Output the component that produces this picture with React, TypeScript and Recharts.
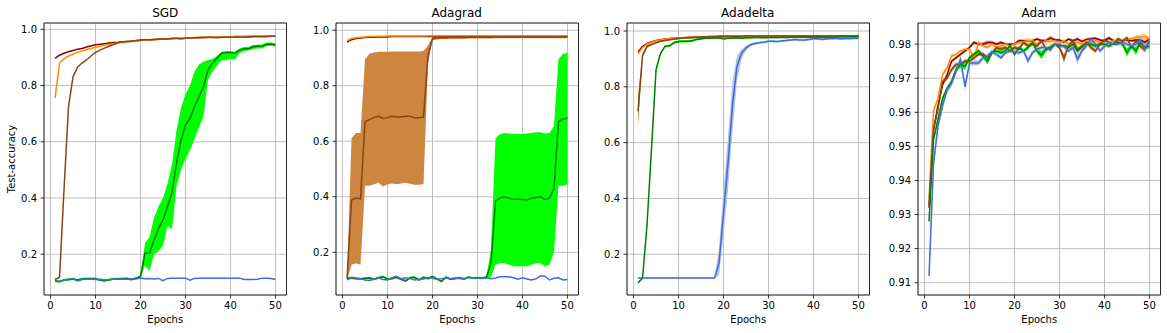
import React from 'react';
import { ComposedChart, Line, Area, XAxis, YAxis, CartesianGrid, ReferenceArea } from 'recharts';

const FONT = '"DejaVu Sans", Verdana, sans-serif';

const epochs = [1,2,3,4,5,6,7,8,9,10,11,12,13,14,15,16,17,18,19,20,21,22,23,24,25,26,27,28,29,30,31,32,33,34,35,36,37,38,39,40,41,42,43,44,45,46,47,48,49,50];
const xTicks = [0, 10, 20, 30, 40, 50];
const unitTicks = [0.2, 0.4, 0.6, 0.8, 1.0];
const adamTicks = [0.91, 0.92, 0.93, 0.94, 0.95, 0.96, 0.97, 0.98];
const titles = ['SGD', 'Adagrad', 'Adadelta', 'Adam'];

// ---------- SGD ----------
const sgdRed = [0.897,0.908,0.915,0.920,0.925,0.929,0.932,0.937,0.941,0.945,0.947,0.949,0.951,0.953,0.954,0.956,0.957,0.958,0.959,0.961,0.962,0.963,0.964,0.965,0.966,0.966,0.967,0.968,0.968,0.969,0.970,0.970,0.971,0.971,0.972,0.972,0.972,0.973,0.973,0.973,0.974,0.974,0.974,0.974,0.975,0.975,0.975,0.975,0.976,0.976];
const sgdOrange = [0.755,0.880,0.895,0.905,0.912,0.918,0.923,0.928,0.932,0.936,0.940,0.943,0.946,0.949,0.952,0.954,0.956,0.957,0.958,0.960,0.961,0.962,0.963,0.964,0.965,0.966,0.967,0.968,0.969,0.969,0.970,0.971,0.971,0.972,0.972,0.973,0.973,0.974,0.974,0.974,0.975,0.975,0.975,0.976,0.976,0.976,0.977,0.977,0.977,0.977];
const sgdBrown = [0.110,0.118,0.430,0.725,0.831,0.865,0.880,0.891,0.905,0.918,0.926,0.933,0.940,0.946,0.952,0.955,0.957,0.958,0.960,0.962,0.963,0.963,0.964,0.965,0.966,0.966,0.967,0.967,0.966,0.968,0.969,0.970,0.970,0.971,0.971,0.971,0.970,0.972,0.972,0.972,0.973,0.973,0.973,0.973,0.974,0.974,0.974,0.974,0.975,0.975];
const sgdGreen = [0.105,0.103,0.108,0.110,0.112,0.108,0.112,0.113,0.113,0.113,0.108,0.106,0.109,0.112,0.112,0.113,0.114,0.110,0.115,0.120,0.204,0.204,0.251,0.292,0.322,0.369,0.420,0.524,0.606,0.660,0.683,0.725,0.760,0.796,0.855,0.879,0.897,0.915,0.918,0.918,0.915,0.926,0.931,0.931,0.938,0.940,0.940,0.947,0.948,0.945];
const sgdGreenLo = [0.100,0.099,0.104,0.106,0.108,0.104,0.108,0.109,0.109,0.109,0.104,0.102,0.105,0.108,0.108,0.109,0.110,0.106,0.111,0.115,0.160,0.140,0.200,0.210,0.230,0.300,0.290,0.440,0.500,0.540,0.570,0.610,0.650,0.690,0.820,0.850,0.870,0.890,0.890,0.895,0.893,0.915,0.922,0.925,0.930,0.932,0.932,0.940,0.942,0.938];
const sgdGreenHi = [0.110,0.107,0.112,0.114,0.116,0.112,0.116,0.117,0.117,0.117,0.112,0.110,0.113,0.116,0.116,0.117,0.118,0.114,0.119,0.125,0.240,0.260,0.330,0.370,0.400,0.450,0.520,0.640,0.720,0.770,0.800,0.850,0.875,0.885,0.890,0.895,0.905,0.920,0.922,0.922,0.920,0.932,0.937,0.937,0.944,0.946,0.946,0.952,0.953,0.950];
const sgdBlue = [0.105,0.103,0.108,0.112,0.113,0.105,0.110,0.111,0.112,0.110,0.111,0.109,0.110,0.112,0.111,0.112,0.111,0.113,0.112,0.115,0.113,0.114,0.112,0.114,0.106,0.114,0.115,0.115,0.115,0.115,0.108,0.114,0.115,0.115,0.115,0.115,0.115,0.115,0.115,0.115,0.115,0.115,0.110,0.110,0.110,0.111,0.115,0.115,0.114,0.110];

// ---------- Adagrad ----------
const agRed = [0.957,0.966,0.970,0.972,0.974,0.975,0.975,0.976,0.976,0.976,0.977,0.977,0.977,0.977,0.977,0.977,0.977,0.977,0.977,0.977,0.977,0.977,0.977,0.977,0.977,0.978,0.978,0.978,0.978,0.978,0.978,0.978,0.978,0.978,0.978,0.978,0.978,0.978,0.978,0.978,0.978,0.978,0.978,0.978,0.978,0.978,0.978,0.978,0.978,0.978];
const agOrange = [0.962,0.970,0.973,0.975,0.976,0.977,0.977,0.978,0.978,0.979,0.979,0.979,0.979,0.979,0.979,0.979,0.979,0.979,0.980,0.980,0.980,0.980,0.980,0.980,0.980,0.980,0.980,0.980,0.980,0.980,0.980,0.980,0.980,0.980,0.980,0.980,0.980,0.980,0.980,0.980,0.980,0.980,0.980,0.980,0.980,0.980,0.980,0.980,0.980,0.980];
const agBrown = [0.105,0.388,0.395,0.392,0.671,0.678,0.685,0.690,0.682,0.685,0.690,0.687,0.687,0.690,0.690,0.685,0.685,0.687,0.910,0.970,0.972,0.973,0.973,0.974,0.974,0.974,0.974,0.975,0.975,0.975,0.975,0.975,0.975,0.976,0.976,0.976,0.976,0.976,0.976,0.976,0.976,0.976,0.976,0.976,0.976,0.976,0.976,0.976,0.976,0.976];
const agBrownLo = [0.100,0.155,0.160,0.155,0.440,0.440,0.445,0.450,0.437,0.445,0.448,0.445,0.448,0.450,0.447,0.443,0.443,0.445,0.880,0.964,0.967,0.968,0.968,0.969,0.969,0.969,0.969,0.970,0.970,0.970,0.970,0.970,0.970,0.971,0.971,0.971,0.971,0.971,0.971,0.971,0.971,0.971,0.971,0.971,0.971,0.971,0.971,0.971,0.971,0.971];
const agBrownHi = [0.110,0.610,0.630,0.630,0.895,0.915,0.920,0.922,0.922,0.922,0.923,0.923,0.923,0.923,0.923,0.923,0.923,0.925,0.945,0.976,0.977,0.978,0.978,0.978,0.978,0.978,0.978,0.979,0.979,0.979,0.979,0.979,0.979,0.979,0.979,0.979,0.979,0.979,0.979,0.979,0.979,0.979,0.979,0.979,0.979,0.979,0.979,0.979,0.979,0.979];
const agGreen = [0.108,0.107,0.105,0.104,0.106,0.107,0.103,0.108,0.112,0.103,0.105,0.110,0.103,0.097,0.108,0.110,0.100,0.110,0.105,0.112,0.104,0.095,0.110,0.103,0.105,0.108,0.104,0.110,0.107,0.108,0.107,0.110,0.160,0.385,0.395,0.400,0.395,0.390,0.392,0.390,0.388,0.395,0.397,0.400,0.390,0.395,0.430,0.670,0.680,0.683];
const agGreenLo = [0.104,0.103,0.101,0.100,0.102,0.103,0.099,0.104,0.108,0.099,0.101,0.106,0.099,0.093,0.104,0.106,0.096,0.106,0.101,0.108,0.100,0.091,0.106,0.099,0.101,0.104,0.100,0.106,0.103,0.104,0.103,0.105,0.110,0.155,0.160,0.160,0.155,0.150,0.150,0.150,0.150,0.155,0.160,0.160,0.150,0.155,0.200,0.440,0.440,0.445];
const agGreenHi = [0.112,0.111,0.109,0.108,0.110,0.111,0.107,0.112,0.116,0.107,0.109,0.114,0.107,0.101,0.112,0.114,0.104,0.114,0.109,0.116,0.108,0.099,0.114,0.107,0.109,0.112,0.108,0.114,0.111,0.112,0.111,0.115,0.210,0.610,0.625,0.630,0.628,0.627,0.627,0.627,0.628,0.630,0.632,0.632,0.628,0.630,0.655,0.895,0.915,0.918];
const agBlue = [0.100,0.110,0.107,0.105,0.100,0.098,0.103,0.108,0.102,0.100,0.108,0.113,0.105,0.108,0.105,0.100,0.103,0.104,0.108,0.106,0.103,0.105,0.107,0.105,0.107,0.105,0.104,0.110,0.107,0.108,0.107,0.108,0.105,0.107,0.112,0.112,0.112,0.108,0.103,0.108,0.104,0.100,0.104,0.115,0.114,0.100,0.106,0.108,0.100,0.102];

// ---------- Adadelta ----------
const adRed = [0.925,0.945,0.955,0.962,0.966,0.969,0.971,0.973,0.974,0.975,0.976,0.977,0.977,0.978,0.978,0.979,0.979,0.979,0.980,0.980,0.980,0.980,0.980,0.980,0.981,0.981,0.981,0.981,0.981,0.981,0.981,0.981,0.981,0.981,0.981,0.981,0.981,0.981,0.982,0.982,0.982,0.982,0.982,0.982,0.982,0.982,0.982,0.982,0.982,0.982];
const adOrange = [0.918,0.940,0.953,0.960,0.965,0.968,0.971,0.973,0.974,0.975,0.976,0.977,0.978,0.978,0.979,0.979,0.980,0.980,0.980,0.980,0.980,0.980,0.981,0.981,0.981,0.981,0.981,0.981,0.981,0.981,0.981,0.981,0.981,0.981,0.981,0.981,0.981,0.981,0.981,0.981,0.981,0.981,0.981,0.981,0.981,0.981,0.981,0.981,0.981,0.981];
const adBrown = [0.712,0.912,0.945,0.952,0.958,0.963,0.966,0.969,0.971,0.973,0.975,0.976,0.977,0.978,0.979,0.979,0.980,0.980,0.981,0.981,0.981,0.981,0.981,0.981,0.982,0.982,0.982,0.982,0.982,0.982,0.982,0.982,0.982,0.982,0.982,0.982,0.982,0.982,0.982,0.982,0.982,0.982,0.982,0.982,0.982,0.982,0.982,0.982,0.982,0.982];
const adBrownLo = [0.655,0.905,0.940,0.948,0.955,0.960,0.963,0.966,0.968,0.970,0.972,0.973,0.974,0.975,0.976,0.976,0.977,0.977,0.978,0.978,0.978,0.978,0.978,0.978,0.979,0.979,0.979,0.979,0.979,0.979,0.979,0.979,0.979,0.979,0.979,0.979,0.979,0.979,0.979,0.979,0.979,0.979,0.979,0.979,0.979,0.979,0.979,0.979,0.979,0.979];
const adBrownHi = [0.770,0.920,0.950,0.956,0.961,0.966,0.969,0.972,0.974,0.976,0.978,0.979,0.980,0.981,0.982,0.982,0.983,0.983,0.984,0.984,0.984,0.984,0.984,0.984,0.985,0.985,0.985,0.985,0.985,0.985,0.985,0.985,0.985,0.985,0.985,0.985,0.985,0.985,0.985,0.985,0.985,0.985,0.985,0.985,0.985,0.985,0.985,0.985,0.985,0.985];
const adGreen = [0.098,0.114,0.305,0.580,0.860,0.920,0.945,0.947,0.958,0.962,0.963,0.963,0.965,0.970,0.972,0.974,0.974,0.975,0.976,0.972,0.974,0.975,0.976,0.974,0.976,0.976,0.977,0.977,0.976,0.977,0.977,0.977,0.978,0.977,0.978,0.978,0.978,0.978,0.978,0.978,0.978,0.978,0.978,0.978,0.978,0.979,0.979,0.979,0.979,0.979];
const adGreenSpread = [0.004,0.004,0.010,0.012,0.010,0.005,0.004,0.004,0.004,0.004,0.004,0.004,0.004,0.004,0.003,0.003,0.003,0.003,0.003,0.004,0.003,0.003,0.003,0.003,0.003,0.003,0.003,0.003,0.003,0.003,0.003,0.003,0.003,0.003,0.003,0.003,0.003,0.003,0.003,0.003,0.003,0.003,0.003,0.003,0.003,0.003,0.003,0.003,0.003,0.003];
const adBlue = [0.115,0.115,0.115,0.115,0.115,0.115,0.115,0.115,0.115,0.115,0.115,0.115,0.115,0.115,0.115,0.115,0.115,0.115,0.168,0.347,0.526,0.736,0.873,0.921,0.939,0.951,0.955,0.958,0.960,0.963,0.963,0.962,0.965,0.966,0.968,0.970,0.968,0.968,0.970,0.972,0.972,0.970,0.972,0.973,0.974,0.972,0.973,0.973,0.974,0.974];
const adBlueLo = [0.113,0.113,0.113,0.113,0.113,0.113,0.113,0.113,0.113,0.113,0.113,0.113,0.113,0.113,0.113,0.113,0.113,0.113,0.125,0.270,0.430,0.640,0.820,0.900,0.930,0.945,0.950,0.954,0.956,0.959,0.959,0.958,0.961,0.962,0.964,0.966,0.964,0.964,0.966,0.968,0.968,0.966,0.968,0.969,0.970,0.968,0.969,0.969,0.970,0.970];
const adBlueHi = [0.117,0.117,0.117,0.117,0.117,0.117,0.117,0.117,0.117,0.117,0.117,0.117,0.117,0.117,0.117,0.117,0.117,0.117,0.220,0.430,0.620,0.820,0.910,0.935,0.947,0.956,0.960,0.962,0.964,0.967,0.967,0.966,0.969,0.970,0.972,0.974,0.972,0.972,0.974,0.976,0.976,0.974,0.976,0.977,0.978,0.976,0.977,0.977,0.978,0.978];

// ---------- Adam ----------
const adamRed = [0.932,0.955,0.962,0.968,0.971,0.975,0.976,0.977,0.978,0.979,0.9805,0.980,0.980,0.9805,0.9805,0.980,0.9805,0.980,0.980,0.980,0.981,0.981,0.981,0.981,0.9815,0.981,0.981,0.9818,0.9812,0.9812,0.9806,0.9815,0.981,0.9815,0.9808,0.9814,0.9816,0.9817,0.9812,0.981,0.9818,0.981,0.9808,0.981,0.9812,0.981,0.9812,0.9812,0.9805,0.9815];
const adamOrange = [0.935,0.9605,0.964,0.971,0.973,0.9765,0.977,0.978,0.9785,0.9785,0.976,0.9805,0.9795,0.979,0.980,0.979,0.9795,0.980,0.9795,0.980,0.9805,0.9808,0.981,0.981,0.980,0.9805,0.981,0.9808,0.981,0.9805,0.981,0.980,0.9805,0.9805,0.980,0.981,0.9805,0.981,0.9805,0.980,0.9805,0.981,0.981,0.9805,0.9815,0.9815,0.982,0.982,0.9823,0.9815];
const adamBrown = [0.933,0.955,0.961,0.969,0.970,0.9725,0.974,0.974,0.975,0.975,0.976,0.977,0.977,0.976,0.9775,0.979,0.9785,0.979,0.978,0.979,0.9785,0.9805,0.9795,0.980,0.9795,0.981,0.9785,0.979,0.980,0.979,0.9758,0.9795,0.981,0.9785,0.979,0.9805,0.979,0.978,0.980,0.9812,0.9805,0.980,0.9815,0.9808,0.9818,0.979,0.981,0.9795,0.9785,0.981];
const adamGreen = [0.928,0.952,0.958,0.964,0.967,0.969,0.9725,0.974,0.9735,0.976,0.977,0.978,0.9765,0.975,0.9775,0.978,0.9775,0.978,0.9795,0.977,0.979,0.978,0.979,0.9805,0.978,0.9768,0.9785,0.979,0.980,0.9795,0.9795,0.979,0.980,0.978,0.9795,0.980,0.980,0.9795,0.980,0.980,0.9795,0.9802,0.9805,0.980,0.9775,0.9795,0.978,0.9805,0.979,0.9795];
const adamBlue = [0.912,0.945,0.956,0.962,0.9665,0.9685,0.972,0.9755,0.9675,0.9745,0.9745,0.9745,0.976,0.9765,0.9778,0.977,0.976,0.9775,0.978,0.9778,0.9775,0.978,0.9751,0.9775,0.9785,0.979,0.979,0.9783,0.980,0.980,0.9793,0.978,0.979,0.9756,0.978,0.9795,0.9815,0.980,0.978,0.9793,0.9805,0.980,0.980,0.9805,0.980,0.9795,0.980,0.9813,0.9785,0.9808];
const adamRedSpread = [0.0010,0.0008,0.0006,0.0006,0.0005,0.0005,0.0005,0.0005,0.0004,0.0005,0.0005,0.0004,0.0006,0.0006,0.0005,0.0004,0.0005,0.0004,0.0004,0.0004,0.0005,0.0004,0.0004,0.0005,0.0004,0.0005,0.0006,0.0007,0.0005,0.0004,0.0005,0.0004,0.0004,0.0005,0.0004,0.0004,0.0005,0.0004,0.0004,0.0004,0.0005,0.0004,0.0004,0.0005,0.0004,0.0004,0.0005,0.0007,0.0008,0.0006];
const adamOrangeSpread = [0.0020,0.0010,0.0008,0.0006,0.0005,0.0005,0.0004,0.0004,0.0004,0.0005,0.0006,0.0005,0.0005,0.0004,0.0004,0.0005,0.0004,0.0004,0.0005,0.0004,0.0005,0.0008,0.0008,0.0005,0.0005,0.0004,0.0004,0.0005,0.0004,0.0004,0.0005,0.0004,0.0004,0.0005,0.0008,0.0008,0.0005,0.0004,0.0004,0.0005,0.0004,0.0004,0.0005,0.0004,0.0005,0.0005,0.0006,0.0008,0.0008,0.0007];
const adamBrownSpread = [0.0020,0.0012,0.0008,0.0007,0.0006,0.0006,0.0006,0.0006,0.0006,0.0006,0.0006,0.0005,0.0006,0.0006,0.0005,0.0005,0.0006,0.0005,0.0005,0.0006,0.0006,0.0005,0.0006,0.0005,0.0006,0.0005,0.0007,0.0006,0.0005,0.0006,0.0012,0.0006,0.0005,0.0008,0.0006,0.0005,0.0006,0.0006,0.0005,0.0006,0.0005,0.0006,0.0005,0.0006,0.0005,0.0007,0.0006,0.0008,0.0010,0.0007];
const adamGreenSpread = [0.0015,0.0010,0.0008,0.0007,0.0006,0.0006,0.0008,0.0010,0.0010,0.0006,0.0006,0.0006,0.0007,0.0010,0.0006,0.0005,0.0006,0.0005,0.0006,0.0006,0.0005,0.0006,0.0005,0.0006,0.0007,0.0012,0.0006,0.0005,0.0005,0.0005,0.0005,0.0006,0.0005,0.0006,0.0005,0.0005,0.0005,0.0006,0.0005,0.0005,0.0006,0.0005,0.0005,0.0006,0.0012,0.0006,0.0012,0.0006,0.0006,0.0008];
const adamBlueSpread = [0.0030,0.0020,0.0015,0.0012,0.0010,0.0010,0.0010,0.0010,0.0012,0.0008,0.0008,0.0008,0.0007,0.0007,0.0006,0.0006,0.0006,0.0006,0.0006,0.0006,0.0006,0.0006,0.0010,0.0007,0.0006,0.0006,0.0006,0.0006,0.0005,0.0006,0.0006,0.0006,0.0006,0.0015,0.0007,0.0006,0.0006,0.0006,0.0007,0.0006,0.0006,0.0006,0.0005,0.0006,0.0006,0.0006,0.0006,0.0006,0.0007,0.0006];

const COLORS = {
  red: { line: '#8B0000', band: '#E07878', op: 0.75 },
  orange: { line: '#FF8C00', band: '#FFC47A', op: 0.8 },
  brown: { line: '#8B4513', band: '#CD853F', op: 1 },
  green: { line: '#008000', band: '#00FF00', op: 1 },
  blue: { line: '#4169E1', band: '#B0C4DE', op: 1 },
};

type Series = { name: keyof typeof COLORS; mean: number[]; lo?: number[]; hi?: number[]; spread?: number[] };

const panels: { title: string; plotLeft: number; yw: number; domain: [number, number]; ticks: number[]; dec: number; series: Series[] }[] = [
  {
    title: titles[0], plotLeft: 44, yw: 44, domain: [0.055, 1.0225], ticks: unitTicks, dec: 1,
    series: [
      { name: 'red', mean: sgdRed },
      { name: 'orange', mean: sgdOrange },
      { name: 'brown', mean: sgdBrown },
      { name: 'green', mean: sgdGreen, lo: sgdGreenLo, hi: sgdGreenHi },
      { name: 'blue', mean: sgdBlue },
    ],
  },
  {
    title: titles[1], plotLeft: 335.5, yw: 40, domain: [0.046, 1.026], ticks: unitTicks, dec: 1,
    series: [
      { name: 'red', mean: agRed },
      { name: 'orange', mean: agOrange },
      { name: 'brown', mean: agBrown, lo: agBrownLo, hi: agBrownHi },
      { name: 'green', mean: agGreen, lo: agGreenLo, hi: agGreenHi },
      { name: 'blue', mean: agBlue },
    ],
  },
  {
    title: titles[2], plotLeft: 626.5, yw: 40, domain: [0.054, 1.0287], ticks: unitTicks, dec: 1,
    series: [
      { name: 'red', mean: adRed },
      { name: 'orange', mean: adOrange },
      { name: 'brown', mean: adBrown, lo: adBrownLo, hi: adBrownHi },
      { name: 'green', mean: adGreen, spread: adGreenSpread },
      { name: 'blue', mean: adBlue, lo: adBlueLo, hi: adBlueHi },
    ],
  },
  {
    title: titles[3], plotLeft: 917.5, yw: 40, domain: [0.9064, 0.9862], ticks: adamTicks, dec: 2,
    series: [
      { name: 'red', mean: adamRed, spread: adamRedSpread },
      { name: 'orange', mean: adamOrange, spread: adamOrangeSpread },
      { name: 'brown', mean: adamBrown, spread: adamBrownSpread },
      { name: 'green', mean: adamGreen, spread: adamGreenSpread },
      { name: 'blue', mean: adamBlue, spread: adamBlueSpread },
    ],
  },
];

const PLOT_W = 242.5;
const TOP = 23;
const BOTTOM = 295;
const H = 333;
const X_DOMAIN: [number, number] = [-1.45, 52.45];

function buildRows(series: Series[]) {
  return epochs.map((e, i) => {
    const row: Record<string, any> = { epoch: e };
    series.forEach((s) => {
      row[s.name] = s.mean[i];
      if (s.lo && s.hi) row[s.name + 'Band'] = [s.lo[i], s.hi[i]];
      else if (s.spread) row[s.name + 'Band'] = [s.mean[i] - s.spread[i], s.mean[i] + s.spread[i]];
    });
    return row;
  });
}

const tickStyle = { fill: '#000', fontSize: 10, fontFamily: FONT };

function Panel({ p }: { p: (typeof panels)[number] }) {
  const right = 6;
  const width = p.yw + PLOT_W + right;
  const rows = buildRows(p.series);
  const marks: React.ReactNode[] = [];
  p.series.forEach((s) => {
    const c = COLORS[s.name];
    if ((s.lo && s.hi) || s.spread) {
      marks.push(
        <Area
          key={s.name + 'band'}
          type="linear"
          dataKey={s.name + 'Band'}
          stroke="none"
          fill={c.band}
          fillOpacity={c.op}
          isAnimationActive={false}
          dot={false}
          activeDot={false}
        />
      );
    }
    marks.push(
      <Line
        key={s.name + 'line'}
        type="linear"
        dataKey={s.name}
        stroke={c.line}
        strokeWidth={1.5}
        dot={false}
        activeDot={false}
        isAnimationActive={false}
      />
    );
  });
  return (
    <div style={{ position: 'absolute', left: p.plotLeft - p.yw, top: 0, width, height: H }}>
      <ComposedChart width={width} height={H} data={rows} margin={{ top: TOP, right, bottom: 0, left: 0 }}>
        <CartesianGrid stroke="#b0b0b0" strokeWidth={0.8} />
        <XAxis
          dataKey="epoch"
          type="number"
          domain={X_DOMAIN}
          ticks={xTicks}
          interval={0}
          allowDataOverflow
          height={H - BOTTOM}
          axisLine={false}
          tickLine={{ stroke: '#000', strokeWidth: 0.8 }}
          tickSize={3.5}
          tickMargin={3.5}
          tick={tickStyle}
          label={{ value: 'Epochs', position: 'insideBottom', offset: 10, fill: '#000', fontSize: 10, fontFamily: FONT }}
        />
        <YAxis
          type="number"
          domain={p.domain}
          ticks={p.ticks}
          interval={0}
          allowDataOverflow
          width={p.yw}
          axisLine={false}
          tickLine={{ stroke: '#000', strokeWidth: 0.8 }}
          tickSize={3.5}
          tickMargin={3.5}
          tick={tickStyle}
          tickFormatter={(v: number) => v.toFixed(p.dec)}
        />
        {marks}
        <ReferenceArea
          x1={X_DOMAIN[0]}
          x2={X_DOMAIN[1]}
          y1={p.domain[0]}
          y2={p.domain[1]}
          fill="none"
          fillOpacity={0}
          stroke="#000"
          strokeWidth={0.8}
          ifOverflow="visible"
        />
      </ComposedChart>
    </div>
  );
}

export default function App() {
  return (
    <div style={{ position: 'absolute', left: 0, top: 0, width: 1167, height: H, background: '#fff', overflow: 'hidden' }}>
      {panels.map((p) => (
        <Panel key={p.title} p={p} />
      ))}
      <svg width={1167} height={H} style={{ position: 'absolute', left: 0, top: 0, pointerEvents: 'none' }}>
        {panels.map((p) => (
          <text key={p.title} x={p.plotLeft + PLOT_W / 2} y={17} textAnchor="middle" fontSize={12} fontFamily={FONT} fill="#000">
            {p.title}
          </text>
        ))}
        <text transform={`translate(15,${(TOP + BOTTOM) / 2}) rotate(-90)`} textAnchor="middle" fontSize={10} fontFamily={FONT} fill="#000">
          Test-accuracy
        </text>
      </svg>
    </div>
  );
}
